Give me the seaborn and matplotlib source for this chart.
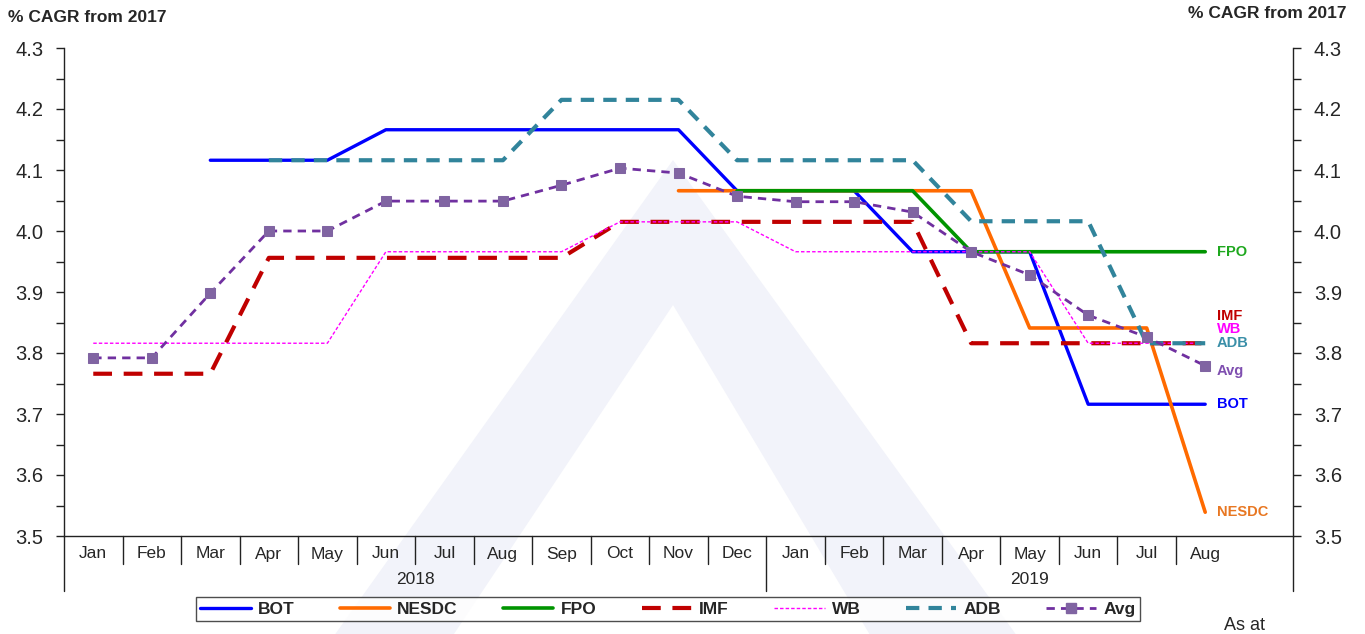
import numpy as np
import pandas as pd
import matplotlib
matplotlib.use("Agg")
import matplotlib.pyplot as plt
import seaborn as sns
from matplotlib.transforms import blended_transform_factory
from matplotlib.lines import Line2D
from matplotlib.patches import Polygon

nan = np.nan
months = ["Jan", "Feb", "Mar", "Apr", "May", "Jun", "Jul", "Aug", "Sep", "Oct", "Nov", "Dec",
          "Jan", "Feb", "Mar", "Apr", "May", "Jun", "Jul", "Aug"]
years = ["2018", "2019"]

bot = [nan, nan, 4.116, 4.116, 4.116, 4.166, 4.166, 4.166, 4.166, 4.166, 4.166, 4.066,
       4.066, 4.066, 3.966, 3.966, 3.966, 3.716, 3.716, 3.716]
nesdc = [nan, nan, nan, nan, nan, nan, nan, nan, nan, nan, 4.066, 4.066,
         4.066, 4.066, 4.066, 4.066, 3.841, 3.841, 3.841, 3.539]
fpo = [nan, nan, nan, nan, nan, nan, nan, nan, nan, nan, nan, 4.066,
       4.066, 4.066, 4.066, 3.966, 3.966, 3.966, 3.966, 3.966]
imf = [3.766, 3.766, 3.766, 3.956, 3.956, 3.956, 3.956, 3.956, 3.956, 4.015, 4.015, 4.015,
       4.015, 4.015, 4.015, 3.816, 3.816, 3.816, 3.816, 3.816]
wb = [3.816, 3.816, 3.816, 3.816, 3.816, 3.966, 3.966, 3.966, 3.966, 4.015, 4.015, 4.015,
      3.966, 3.966, 3.966, 3.966, 3.966, 3.816, 3.816, 3.816]
adb = [nan, nan, nan, 4.116, 4.116, 4.116, 4.116, 4.116, 4.215, 4.215, 4.215, 4.116,
       4.116, 4.116, 4.116, 4.016, 4.016, 4.016, 3.816, 3.816]
avg = [3.792, 3.792, 3.898, 4.000, 4.000, 4.049, 4.049, 4.049, 4.075, 4.103, 4.095, 4.057,
       4.048, 4.048, 4.031, 3.966, 3.928, 3.862, 3.826, 3.779]

series_names = ["BOT", "NESDC", "FPO", "IMF", "WB", "ADB", "Avg"]
series_vals = [bot, nesdc, fpo, imf, wb, adb, avg]
colors = {"BOT": "#0000FF", "NESDC": "#FF6A00", "FPO": "#009400", "IMF": "#C00000",
          "WB": "#FF00FF", "ADB": "#31849B", "Avg": "#7030A0"}
label_colors = {"BOT": "#0000FF", "NESDC": "#E87722", "FPO": "#1FA81F", "IMF": "#C00000",
                "WB": "#FF00FF", "ADB": "#3A8FA8", "Avg": "#7F4FB0"}
styles = {
    "BOT": dict(lw=2.4, ls="-"),
    "NESDC": dict(lw=2.6, ls="-"),
    "FPO": dict(lw=2.6, ls="-"),
    "IMF": dict(lw=3.0, ls=(0, (4.5, 2.8))),
    "WB": dict(lw=1.0, ls=(0, (2.5, 1.5))),
    "ADB": dict(lw=3.0, ls=(0, (3.2, 2.2))),
    "Avg": dict(lw=2.0, ls=(0, (3.0, 2.2))),
}
label_offsets = {"BOT": 0.0, "NESDC": 0.0, "FPO": 0.0, "IMF": 0.044, "WB": 0.023,
                 "ADB": 0.0, "Avg": -0.008}

sns.set_theme(style="white")
plt.rcParams["font.family"] = ["Liberation Sans", "DejaVu Sans"]

W, H = 1365, 634
fig = plt.figure(figsize=(W / 100, H / 100), dpi=100)

# faint watermark in the background
def fp(px, py):
    return (px / W, 1 - py / H)
outer = Polygon([fp(331, 640), fp(673, 160), fp(1020, 640), fp(873, 640), fp(673, 305),
                 fp(450, 640)], closed=True, transform=fig.transFigure,
                facecolor="#F2F3FA", edgecolor="none", zorder=-5)
fig.patches.append(outer)

ax = fig.add_axes([64 / W, 1 - 536 / H, (1293 - 64) / W, (536 - 48) / H])
ax.set_facecolor("none")
ax.set_zorder(1)

x = np.arange(len(months))
for name, vals in zip(series_names, series_vals):
    df = pd.DataFrame({"x": x, "y": vals}).dropna()
    st = styles[name]
    kw = {}
    if name == "Avg":
        kw = dict(marker="s", markersize=7, markerfacecolor="#8064A2",
                  markeredgecolor="#8064A2")
    sns.lineplot(data=df, x="x", y="y", ax=ax, color=colors[name], linewidth=st["lw"],
                 linestyle=st["ls"], legend=False, zorder=3, **kw)

# right-hand series labels
for name, vals in zip(series_names, series_vals):
    ax.text(19.2, vals[-1] + label_offsets[name], name, color=label_colors[name],
            fontsize=10.5, fontweight="bold", va="center", ha="left")

ax.set_xlim(-0.5, 20.5)
ax.set_ylim(3.5, 4.3)
ax.set_xlabel("")
ax.set_ylabel("")
ax.set_xticks([])
ax.set_yticks(np.arange(3.5, 4.31, 0.1))
ax.set_yticks(np.arange(3.55, 4.3, 0.1), minor=True)
ax.set_yticklabels([f"{v:.1f}" for v in np.arange(3.5, 4.31, 0.1)], fontsize=14.5)
ax.tick_params(axis="y", which="both", direction="out", length=6, width=1, color="#222222",
               left=True, right=True, labelleft=True, labelright=True, pad=9)
ax.spines["top"].set_visible(False)
for s in ["left", "right", "bottom"]:
    ax.spines[s].set_visible(True)
    ax.spines[s].set_color("#222222")
    ax.spines[s].set_linewidth(1.0)

# category axis separators and labels
trans = blended_transform_factory(ax.transData, ax.transAxes)
def frac(px):
    return -px / (536 - 48)
for k in range(len(months)):
    ax.text(k, frac(18), months[k], transform=trans, ha="center", va="center", fontsize=12.5)
for k in range(1, len(months)):
    if k == 12:
        continue
    ax.add_line(Line2D([k - 0.5, k - 0.5], [0, frac(28)], transform=trans, color="#222222",
                       lw=1.0, clip_on=False))
for xv in [-0.5, 11.5, 20.5]:
    ax.add_line(Line2D([xv, xv], [0, frac(55)], transform=trans, color="#222222",
                       lw=1.0, clip_on=False))
ax.text(5.5, frac(44), years[0], transform=trans, ha="center", va="center", fontsize=12.5)
ax.text(16.0, frac(44), years[1], transform=trans, ha="center", va="center", fontsize=12.5)

# titles
fig.text(8 / W, 1 - 17 / H, "% CAGR from 2017", fontsize=12.5, fontweight="bold",
         ha="left", va="center")
fig.text(1347 / W, 1 - 13 / H, "% CAGR from 2017", fontsize=12.5, fontweight="bold",
         ha="right", va="center")
fig.text(1245 / W, 1 - 625 / H, "As at", fontsize=13, ha="center", va="center")

# legend
handles = []
for name in series_names:
    st = styles[name]
    kw = {}
    if name == "Avg":
        kw = dict(marker="s", markersize=7, markerfacecolor="#8064A2", markeredgecolor="#8064A2")
    handles.append(Line2D([], [], color=colors[name], lw=st["lw"], ls=st["ls"], **kw))
leg = fig.legend(handles, series_names, loc="center", ncol=7,
                 bbox_to_anchor=((196 + 1140) / 2 / W, 1 - 609 / H),
                 frameon=True, fancybox=False, edgecolor="#222222", handlelength=2.9,
                 columnspacing=2.62, handletextpad=0.4, borderpad=0.25, borderaxespad=0,
                 prop={"weight": "bold", "size": 12.5})
leg.get_frame().set_linewidth(1.0)
leg.set_zorder(2)

fig.savefig("out.png", dpi=100)
